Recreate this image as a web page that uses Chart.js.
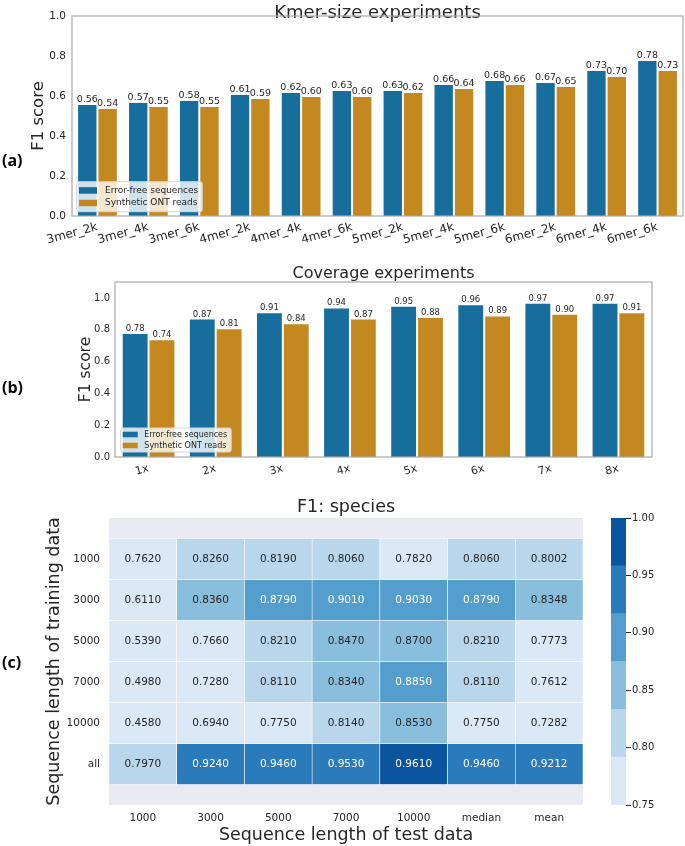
<!DOCTYPE html>
<html>
<head>
<meta charset="utf-8">
<script src="https://cdn.jsdelivr.net/npm/chart.js@4.4.1/dist/chart.umd.min.js"></script>
<style>
  body { margin: 0; background: #fff; width: 685px; height: 846px; position: relative; overflow: hidden; }
  canvas { position: absolute; }
  .tag { position: absolute; left: 2px; font: bold 16px 'Open Sans', 'Liberation Sans', sans-serif; color: #000; line-height: 20px; }
</style>
</head>
<body>
<canvas id="kmerChart" width="685" height="250" style="left:0;top:0"></canvas>
<canvas id="coverageChart" width="685" height="230" style="left:0;top:266px"></canvas>
<canvas id="heatChart" width="685" height="347" style="left:0;top:499px"></canvas>
<canvas id="colorBar" width="85" height="307" style="left:600px;top:508px"></canvas>
<div class="tag" style="top:150px">(a)</div>
<div class="tag" style="top:377px">(b)</div>
<div class="tag" style="top:652px">(c)</div>
<script>
// panel (a) - kmer size
const kmerLabels = ['3mer_2k', '3mer_4k', '3mer_6k', '4mer_2k', '4mer_4k', '4mer_6k',
                    '5mer_2k', '5mer_4k', '5mer_6k', '6mer_2k', '6mer_4k', '6mer_6k'];
const kmerErrorFree = [0.56, 0.57, 0.58, 0.61, 0.62, 0.63, 0.63, 0.66, 0.68, 0.67, 0.73, 0.78];
const kmerOnt = [0.54, 0.55, 0.55, 0.59, 0.60, 0.60, 0.62, 0.64, 0.66, 0.65, 0.70, 0.73];
const kmerTicks = [0, 0.2, 0.4, 0.6, 0.8, 1.0];

// panel (b) - coverage
const coverageLabels = ['1x', '2x', '3x', '4x', '5x', '6x', '7x', '8x'];
const coverageErrorFree = [0.78, 0.87, 0.91, 0.94, 0.95, 0.96, 0.97, 0.97];
const coverageOnt = [0.74, 0.81, 0.84, 0.87, 0.88, 0.89, 0.90, 0.91];
const coverageTicks = [0, 0.2, 0.4, 0.6, 0.8, 1.0];

// panel (c) - heatmap
const testLengths = ['1000', '3000', '5000', '7000', '10000', 'median', 'mean'];
const trainLengths = ['1000', '3000', '5000', '7000', '10000', 'all'];
const f1Train1000 = [0.7620, 0.8260, 0.8190, 0.8060, 0.7820, 0.8060, 0.8002];
const f1Train3000 = [0.6110, 0.8360, 0.8790, 0.9010, 0.9030, 0.8790, 0.8348];
const f1Train5000 = [0.5390, 0.7660, 0.8210, 0.8470, 0.8700, 0.8210, 0.7773];
const f1Train7000 = [0.4980, 0.7280, 0.8110, 0.8340, 0.8850, 0.8110, 0.7612];
const f1Train10000 = [0.4580, 0.6940, 0.7750, 0.8140, 0.8530, 0.7750, 0.7282];
const f1TrainAll = [0.7970, 0.9240, 0.9460, 0.9530, 0.9610, 0.9460, 0.9212];
const heatValues = [f1Train1000, f1Train3000, f1Train5000, f1Train7000, f1Train10000, f1TrainAll];
const colorLevels = [0.75, 0.7917, 0.8333, 0.875, 0.9167, 0.9583, 1.0];
const colorBarTicks = [0.75, 0.80, 0.85, 0.90, 0.95, 1.00];

const blues = ['#dbe9f6', '#bad6eb', '#89bedc', '#539ecd', '#2b7bba', '#0b559f'];
const blueBar = '#176d9c';
const orangeBar = '#c38820';
const ink = '#262626';
const FONT = "'DejaVu Sans', sans-serif";

Chart.defaults.font.family = FONT;
Chart.defaults.color = ink;

function binOf(v) {
  let b = 0;
  for (let i = 1; i < colorLevels.length - 1; i++) if (v >= colorLevels[i]) b = i;
  return b;
}

// box around the plot area
const frame = {
  id: 'frame',
  afterDraw(chart) {
    const a = chart.chartArea, ctx = chart.ctx;
    ctx.save();
    ctx.strokeStyle = '#a8a8a8';
    ctx.lineWidth = 1.2;
    ctx.strokeRect(a.left, a.top, a.right - a.left, a.bottom - a.top);
    ctx.restore();
  }
};

// numbers on top of each bar
const barValues = {
  id: 'barValues',
  afterDatasetsDraw(chart, args, o) {
    const ctx = chart.ctx;
    ctx.save();
    ctx.font = o.size + 'px ' + FONT;
    ctx.fillStyle = ink;
    ctx.textAlign = 'center';
    ctx.textBaseline = 'bottom';
    chart.data.datasets.forEach((ds, i) => {
      chart.getDatasetMeta(i).data.forEach((bar, j) => {
        ctx.fillText(ds.data[j].toFixed(2), bar.x, bar.y);
      });
    });
    ctx.restore();
  }
};

// matplotlib style legend in the lower left corner
const boxLegend = {
  id: 'boxLegend',
  afterDraw(chart, args, o) {
    const ctx = chart.ctx, a = chart.chartArea;
    const dsets = chart.data.datasets;
    ctx.save();
    ctx.font = o.size + 'px ' + FONT;
    const textW = Math.max(...dsets.map(d => ctx.measureText(d.label).width));
    const w = o.sx + o.sw + o.gap + textW + 4;
    const h = o.pad * 2 + o.row * dsets.length;
    const x = a.left + o.dx, y = a.bottom - o.dy - h;
    ctx.fillStyle = 'rgba(255,255,255,0.8)';
    ctx.strokeStyle = '#d4d4d4';
    ctx.lineWidth = 1;
    ctx.beginPath();
    ctx.roundRect(x, y, w, h, 2);
    ctx.fill();
    ctx.stroke();
    ctx.textBaseline = 'middle';
    dsets.forEach((d, i) => {
      const cy = y + o.pad + o.row * (i + 0.5);
      ctx.fillStyle = d.backgroundColor;
      ctx.fillRect(x + o.sx, cy - o.sh / 2, o.sw, o.sh);
      ctx.fillStyle = ink;
      ctx.fillText(d.label, x + o.sx + o.sw + o.gap, cy);
    });
    ctx.restore();
  }
};

function makeBarChart(id, labels, errFree, ont, yTicks, yMax, s) {
  return new Chart(document.getElementById(id), {
    type: 'bar',
    data: {
      labels: labels,
      datasets: [
        { label: 'Error-free sequences', data: errFree, backgroundColor: blueBar },
        { label: 'Synthetic ONT reads', data: ont, backgroundColor: orangeBar }
      ].map(d => Object.assign(d, {
        borderColor: 'rgba(255,255,255,0.45)', borderWidth: 1,
        categoryPercentage: 0.8, barPercentage: 1.0
      }))
    },
    options: {
      responsive: false,
      animation: false,
      layout: { padding: { left: 0, right: s.padRight, top: 0, bottom: 0 } },
      plugins: {
        legend: { display: false },
        tooltip: { enabled: false },
        title: {
          display: true, text: s.title, fullSize: false, color: ink,
          font: { size: s.titleSize, weight: 'normal', lineHeight: 1 }, padding: s.titlePad
        },
        barValues: { size: s.valueSize },
        boxLegend: s.legend
      },
      scales: {
        x: {
          grid: { display: false, drawTicks: false },
          border: { display: false },
          ticks: { autoSkip: false, minRotation: 15, maxRotation: 15, padding: s.xPad, font: { size: s.xSize } },
          afterFit: sc => { sc.height = s.xHeight; }
        },
        y: {
          min: 0, max: yMax,
          afterBuildTicks: sc => { sc.ticks = yTicks.map(v => ({ value: v })); },
          grid: { display: false, drawTicks: false },
          border: { display: false },
          ticks: { callback: v => v.toFixed(1), padding: s.yPad, font: { size: s.ySize } },
          title: { display: true, text: 'F1 score', color: ink, font: { size: s.yTitleSize }, padding: { top: s.yTitlePad, bottom: 0 } },
          afterFit: sc => { sc.width = s.yWidth; }
        }
      }
    },
    plugins: [frame, barValues, boxLegend]
  });
}

makeBarChart('kmerChart', kmerLabels, kmerErrorFree, kmerOnt, kmerTicks, 1.0, {
  title: 'Kmer-size experiments', titleSize: 18, titlePad: { top: 4, bottom: -6 }, padRight: 2,
  valueSize: 9.5, xSize: 12, xPad: 4, xHeight: 34, ySize: 10.5, yPad: 6, yWidth: 72,
  yTitleSize: 16.5, yTitlePad: 29,
  legend: { size: 9, dx: 4.7, dy: 4.3, pad: 2.5, row: 12.5, sx: 2.3, sw: 18, sh: 6.5, gap: 8 }
});

makeBarChart('coverageChart', coverageLabels, coverageErrorFree, coverageOnt, coverageTicks, 1.1, {
  title: 'Coverage experiments', titleSize: 16, titlePad: 0, padRight: 33,
  valueSize: 8.5, xSize: 11, xPad: 5, xHeight: 39, ySize: 10, yPad: 5, yWidth: 115,
  yTitleSize: 15.5, yTitlePad: 77,
  legend: { size: 8, dx: 5.7, dy: 5, pad: 1, row: 11, sx: 2, sw: 15, sh: 5.6, gap: 6.6 }
});

// heatmap: one floating bar per cell, rows stacked on a reversed linear axis
const heatBackground = {
  id: 'heatBackground',
  beforeDatasetsDraw(chart) {
    const a = chart.chartArea, ctx = chart.ctx;
    ctx.save();
    ctx.fillStyle = '#eaeaf2';
    ctx.fillRect(a.left, a.top, a.right - a.left, a.bottom - a.top);
    ctx.restore();
  }
};

const cellText = {
  id: 'cellText',
  afterDatasetsDraw(chart) {
    const ctx = chart.ctx;
    ctx.save();
    ctx.font = '10.5px ' + FONT;
    ctx.textAlign = 'center';
    ctx.textBaseline = 'middle';
    heatValues.forEach((row, r) => {
      chart.getDatasetMeta(r).data.forEach((bar, c) => {
        const v = row[c];
        ctx.fillStyle = binOf(v) >= 3 ? '#ffffff' : ink;
        ctx.fillText(v.toFixed(4), bar.x, (bar.y + bar.base) / 2);
      });
    });
    ctx.restore();
  }
};

new Chart(document.getElementById('heatChart'), {
  type: 'bar',
  data: {
    labels: testLengths,
    datasets: heatValues.map((row, r) => ({
      label: trainLengths[r],
      data: row.map(() => [r - 0.5, r + 0.5]),
      backgroundColor: row.map(v => blues[binOf(v)]),
      borderColor: '#ffffff',
      borderWidth: 0.6,
      borderSkipped: false,
      grouped: false,
      categoryPercentage: 1,
      barPercentage: 1
    }))
  },
  options: {
    responsive: false,
    animation: false,
    layout: { padding: { left: 0, right: 102, top: 0, bottom: 0 } },
    plugins: {
      legend: { display: false },
      tooltip: { enabled: false },
      title: {
        display: true, text: 'F1: species', fullSize: false, color: ink,
        font: { size: 17.5, weight: 'normal', lineHeight: 1 }, padding: { top: 0, bottom: 1.5 }
      }
    },
    scales: {
      x: {
        grid: { display: false, drawTicks: false },
        border: { display: false },
        ticks: { padding: 7, font: { size: 10.5 }, maxRotation: 0 },
        title: { display: true, text: 'Sequence length of test data', color: ink, font: { size: 17.5 }, padding: 0 },
        afterFit: sc => { sc.height = 41; }
      },
      y: {
        type: 'linear', min: -1, max: 6, reverse: true,
        afterBuildTicks: sc => { sc.ticks = trainLengths.map((_, i) => ({ value: i })); },
        grid: { display: false, drawTicks: false },
        border: { display: false },
        ticks: { callback: v => trainLengths[v], padding: 9, font: { size: 10.5 } },
        title: { display: true, text: 'Sequence length of training data', color: ink, font: { size: 17.5 }, padding: { top: 44, bottom: 0 } },
        afterFit: sc => { sc.width = 109; }
      }
    }
  },
  plugins: [heatBackground, cellText]
});

// discrete colour bar
new Chart(document.getElementById('colorBar'), {
  type: 'bar',
  data: {
    labels: [''],
    datasets: blues.map((c, i) => ({
      data: [[colorLevels[i], colorLevels[i + 1]]],
      backgroundColor: c,
      borderWidth: 0,
      grouped: false,
      categoryPercentage: 1,
      barPercentage: 1
    }))
  },
  options: {
    responsive: false,
    animation: false,
    layout: { padding: { left: 11, top: 10, bottom: 10, right: 0 } },
    plugins: { legend: { display: false }, tooltip: { enabled: false } },
    scales: {
      x: { display: false },
      y: {
        position: 'right', min: 0.75, max: 1.0,
        afterBuildTicks: sc => { sc.ticks = colorBarTicks.map(v => ({ value: v })); },
        grid: { drawOnChartArea: false, drawTicks: true, tickLength: 5, color: ink, lineWidth: 1 },
        border: { display: false },
        ticks: { callback: v => v.toFixed(2), padding: 1, font: { size: 10 } },
        afterFit: sc => { sc.width = 59; }
      }
    }
  }
});
</script>
</body>
</html>
